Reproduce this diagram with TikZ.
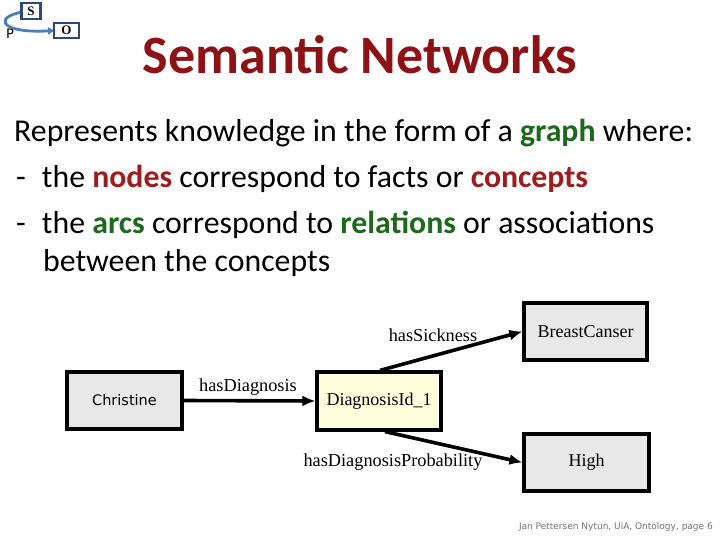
\documentclass[tikz,border=0pt]{standalone}
\usepackage{fontspec}
\setmainfont{Liberation Serif}
\newfontfamily\bodyfont{Carlito}
\newfontfamily\smallsans{DejaVu Sans}
\usetikzlibrary{arrows.meta}
\definecolor{titlered}{RGB}{140,18,22}
\definecolor{kwred}{RGB}{158,28,30}
\definecolor{kwgreen}{RGB}{28,105,28}
\definecolor{logoblue}{RGB}{44,72,120}
\definecolor{logoarrow}{RGB}{74,126,187}
\definecolor{boxgrey}{RGB}{232,232,232}
\definecolor{boxyellow}{RGB}{255,255,222}
\tikzset{
  concept/.style={draw=black, line width=3.2pt, fill=boxgrey, minimum width=123pt,
    minimum height=57pt, inner sep=0pt, font=\fontsize{18}{20}\selectfont},
  relarrow/.style={line width=3.6pt, -{Latex[length=13pt,width=11pt]}},
  rellabel/.style={font=\fontsize{18.3}{20}\selectfont, inner sep=0pt},
  bodyline/.style={anchor=west, inner sep=0pt, font=\bodyfont\fontsize{31.8}{34}\selectfont},
  logobox/.style={draw=logoblue, line width=2.6pt, fill=white, inner sep=0pt,
    font=\bfseries\fontsize{13}{13}\selectfont},
}
\newcommand{\kwg}[1]{\textbf{\color{kwgreen}#1}}
\newcommand{\kwr}[1]{\textbf{\color{kwred}#1}}
\begin{document}
\begin{tikzpicture}[x=1pt,y=-1pt]
  \useasboundingbox[fill=white] (0,0) rectangle (720,540);
  % logo in the corner
  \draw[logoarrow, line width=2.8pt, -{Latex[length=7pt,width=8pt]}]
    (31,11) .. controls (-8,14) and (-4,34) .. (55,30.5);
  \node[logobox, minimum width=19pt, minimum height=16pt] (logoS) at (31,11) {S};
  \node[logobox, minimum width=25pt, minimum height=15pt] (logoO) at (66.5,30.5) {O};
  \node[font=\smallsans\fontsize{13}{13}\selectfont, inner sep=0pt] (logoP) at (10,34) {P};
  % title
  \node[font=\bodyfont\bfseries\fontsize{54}{58}\selectfont, text=titlered] (title)
    at (360,55) {Semantic Networks};
  % body text
  \node[bodyline] (line1) at (14,133) {Represents knowledge in the form of a \kwg{graph} where:};
  \node[bodyline] (line2) at (16,179) {-\hspace{16pt}the \kwr{nodes} correspond to facts or \kwr{concepts}};
  \node[bodyline] (line3) at (16,225) {-\hspace{16pt}the \kwg{arcs} correspond to \kwg{relations} or associations};
  \node[bodyline] (line4) at (43,263) {between the concepts};
  % the graph
  \node[concept, minimum width=115pt, font=\smallsans\fontsize{14.5}{16}\selectfont]
    (christine) at (124.5,400.5) {Christine};
  \node[concept, fill=boxyellow, minimum width=124pt, minimum height=58pt]
    (diag) at (379,401) {\raisebox{-6pt}{DiagnosisId\_1}};
  \node[concept] (breast) at (585.5,331.5) {BreastCanser};
  \node[concept, minimum width=125pt] (high) at (586.5,462.5) {High};
  \draw[relarrow] (christine.east) -- (diag.west);
  \draw[relarrow] ([xshift=1pt]diag.north) -- (breast.west);
  \draw[relarrow] ([xshift=6pt]diag.south) -- (high.west);
  \node[rellabel] (lblDiag) at (248,387) {hasDiagnosis};
  \node[rellabel] (lblSick) at (433,335) {hasSickness};
  \node[rellabel] (lblProb) at (393,462) {hasDiagnosisProbability};
  % footer
  \node[font=\smallsans\fontsize{9}{10}\selectfont, text=black!55, anchor=east, inner sep=0pt]
    (footer) at (713,527) {Jan Pettersen Nytun, UiA, Ontology, page 6};
\end{tikzpicture}
\end{document}
